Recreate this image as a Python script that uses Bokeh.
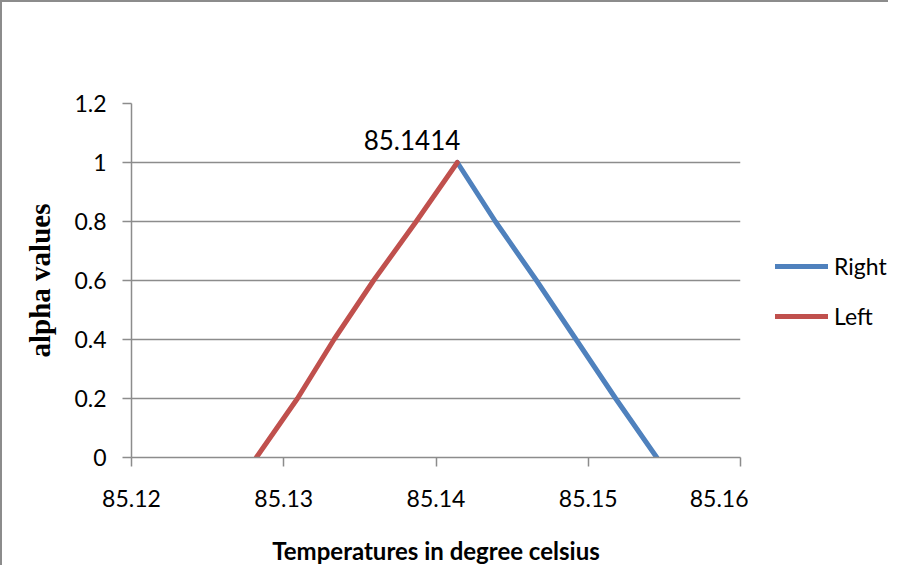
from bokeh.plotting import figure
from bokeh.models import ColumnDataSource, Legend, LegendItem, Range1d, FixedTicker
from bokeh.layouts import row
from bokeh.embed import file_html
from bokeh.resources import INLINE
from bokeh.core.properties import value

# Data
alpha = [0.0, 0.2, 0.4, 0.6, 0.8, 1.0]
left_temp = [85.1282, 85.1309, 85.1333, 85.1359, 85.1387, 85.1414]
right_alpha = [1.0, 0.8, 0.6, 0.4, 0.2, 0.0]
right_temp = [85.1414, 85.1439, 85.1466, 85.1492, 85.1518, 85.1545]
peak_label = ["85.1414"]
peak_x = [85.1414]
peak_y = [1.0]
x_ticks = [85.12, 85.13, 85.14, 85.15, 85.16]
y_ticks = [0, 0.2, 0.4, 0.6, 0.8, 1.0, 1.2]
series_names = ["Right", "Left"]

FONT = "Lato"
GRID = "#8c8c8c"
BLUE = "#4F81BD"
RED = "#C0504D"
LW = 5

p = figure(width=748, height=565, output_backend="svg", toolbar_location=None,
           x_range=Range1d(85.12, 85.16), y_range=Range1d(0, 1.2),
           min_border_left=129, min_border_right=10, min_border_top=101, min_border_bottom=109)
p.styles = {"border-top": "2px solid #8c8c8c", "border-left": "2px solid #8c8c8c"}
p.outline_line_color = None
p.background_fill_color = "white"

p.xaxis.ticker = FixedTicker(ticks=x_ticks)
p.yaxis.ticker = FixedTicker(ticks=y_ticks)
p.xaxis.major_label_overrides = {t: f"{t:.2f}" for t in x_ticks}
p.yaxis.major_label_overrides = {t: ("0" if t == 0 else ("1" if t == 1 else f"{t:.1f}")) for t in y_ticks}

for ax in (p.xaxis, p.yaxis):
    ax.axis_line_color = GRID
    ax.axis_line_width = 1.5
    ax.major_tick_line_color = GRID
    ax.major_tick_line_width = 1.5
    ax.major_tick_out = 9
    ax.major_tick_in = 0
    ax.minor_tick_line_color = None
    ax.major_label_text_font = FONT
    ax.major_label_text_font_size = "23px"
    ax.major_label_text_color = "black"

p.xaxis.major_label_standoff = 23
p.yaxis.major_label_standoff = 16

p.xaxis.axis_label = "Temperatures in degree celsius"
p.xaxis.axis_label_text_font = FONT
p.xaxis.axis_label_text_font_style = "bold"
p.xaxis.axis_label_text_font_size = "24px"
p.xaxis.axis_label_standoff = 26
p.xaxis.axis_label_text_color = "black"

p.yaxis.axis_label = "alpha values"
p.yaxis.axis_label_text_font = "Liberation Serif"
p.yaxis.axis_label_text_font_style = "bold"
p.yaxis.axis_label_text_font_size = "29px"
p.yaxis.axis_label_standoff = 15
p.yaxis.axis_label_text_color = "black"

p.xgrid.grid_line_color = None
p.ygrid.grid_line_color = GRID
p.ygrid.grid_line_width = 1.5

src_r = ColumnDataSource(dict(x=right_temp, y=right_alpha))
src_l = ColumnDataSource(dict(x=left_temp, y=alpha))
p.line("x", "y", source=src_r, line_color=BLUE, line_width=LW, line_cap="round", line_join="round")
p.line("x", "y", source=src_l, line_color=RED, line_width=LW, line_cap="round", line_join="round")

p.text(x=peak_x, y=peak_y, text=peak_label, text_font=value(FONT), text_font_size="26px",
       text_align="right", text_baseline="alphabetic", x_offset=3, y_offset=-23, text_color="black")

# Legend panel to the right of the plot area (its frame aligns with the main frame)
p2 = figure(width=140, height=565, output_backend="svg", toolbar_location=None,
            x_range=Range1d(0, 1), y_range=Range1d(0, 1),
            min_border_left=0, min_border_right=0, min_border_top=0, min_border_bottom=0)
p2.styles = {"border-top": "2px solid #8c8c8c"}
p2.axis.visible = False
p2.grid.visible = False
p2.outline_line_color = None
lr = p2.line(x=[-5, -4], y=[-5, -5], line_color=BLUE, line_width=LW, line_cap="round")
ll = p2.line(x=[-5, -4], y=[-5, -5], line_color=RED, line_width=LW, line_cap="round")

legend = Legend(items=[LegendItem(label=series_names[0], renderers=[lr]),
                       LegendItem(label=series_names[1], renderers=[ll])],
                location=(27, 127), orientation="vertical")
legend.border_line_color = None
legend.background_fill_alpha = 0
legend.padding = 0
legend.margin = 0
legend.glyph_width = 53
legend.glyph_height = 26
legend.spacing = 22
legend.label_standoff = 6
legend.label_text_font = FONT
legend.label_text_font_size = "23px"
legend.label_text_color = "black"
p2.add_layout(legend, "center")

layout = row(p, p2)
open("out.html", "w").write(file_html(layout, INLINE))
